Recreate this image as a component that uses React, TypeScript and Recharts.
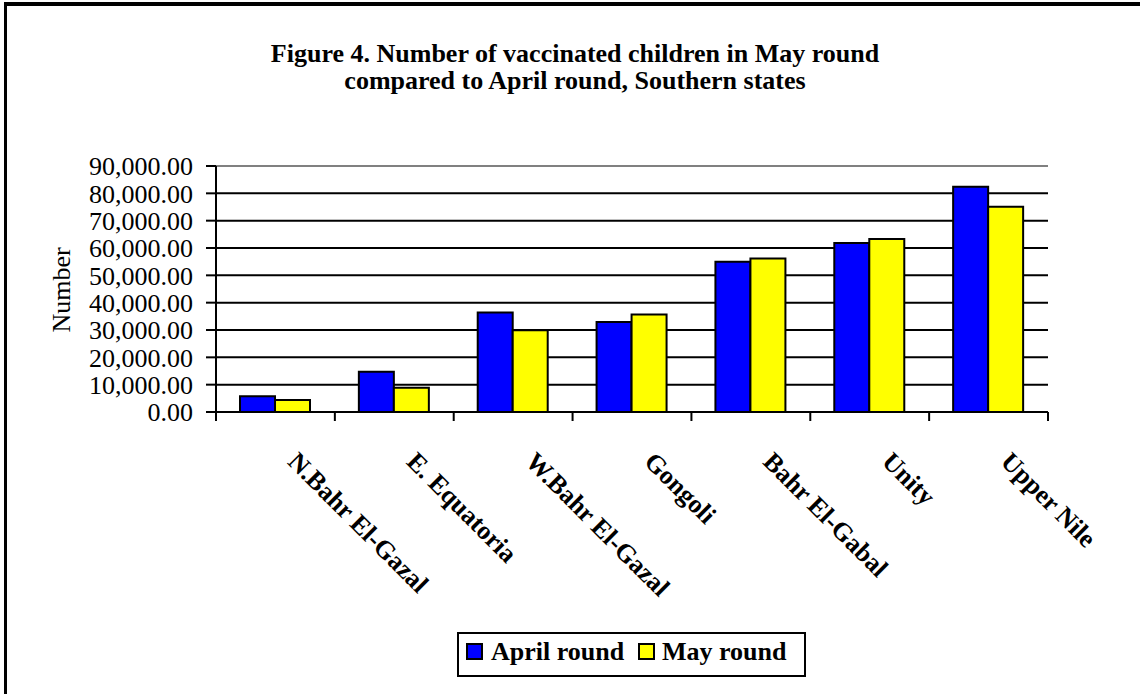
import React from 'react';
import { BarChart, Bar, XAxis, YAxis, CartesianGrid, ReferenceLine } from 'recharts';

const categories = [
  'N.Bahr El-Gazal',
  'E. Equatoria',
  'W.Bahr El-Gazal',
  'Gongoli',
  'Bahr El-Gabal',
  'Unity',
  'Upper Nile',
];
const aprilRound = [5800, 14700, 36400, 32900, 55000, 61800, 82400];
const mayRound = [4400, 8900, 29900, 35700, 56200, 63300, 75100];
const yTicks = [0, 10000, 20000, 30000, 40000, 50000, 60000, 70000, 80000, 90000];
const seriesNames = ['April round', 'May round'];
const seriesColors = ['#0000FF', '#FFFF00'];
const titleLines = [
  'Figure 4. Number of vaccinated children in May round',
  'compared to April round, Southern states',
];
const yAxisTitle = 'Number';

const data = categories.map((name, i) => ({ name, april: aprilRound[i], may: mayRound[i] }));

const FONT = "'Liberation Serif', 'Times New Roman', Times, serif";
const W = 1140;
const H = 694;
const PLOT_LEFT = 216;
const PLOT_RIGHT = 1048;
const PLOT_TOP = 166;
const PLOT_BOTTOM = 412;
const BAND = (PLOT_RIGHT - PLOT_LEFT) / categories.length;
const X_AXIS_H = 60;

const fmt = (v: number) =>
  v.toLocaleString('en-US', { minimumFractionDigits: 2, maximumFractionDigits: 2 });

function CategoryTick(props: any) {
  const { x, payload, index } = props;
  const tx = x + 11;
  const ty = PLOT_BOTTOM + 51;
  const last = index === categories.length - 1 || payload.value === categories[categories.length - 1];
  return (
    <g>
      <line x1={x - BAND / 2} x2={x - BAND / 2} y1={PLOT_BOTTOM} y2={PLOT_BOTTOM + 9} stroke="#000" strokeWidth={2} />
      {last && (
        <line x1={x + BAND / 2} x2={x + BAND / 2} y1={PLOT_BOTTOM} y2={PLOT_BOTTOM + 9} stroke="#000" strokeWidth={2} />
      )}
      <text
        x={tx}
        y={ty}
        transform={`rotate(45 ${tx} ${ty})`}
        textAnchor="start"
        fontFamily={FONT}
        fontWeight="bold"
        fontSize={26}
        fill="#000"
      >
        {payload.value}
      </text>
    </g>
  );
}

function NumberLabel() {
  const x = 70;
  const y = 290;
  return (
    <text
      x={x}
      y={y}
      transform={`rotate(-90 ${x} ${y})`}
      textAnchor="middle"
      fontFamily={FONT}
      fontSize={26}
      fill="#000"
    >
      {yAxisTitle}
    </text>
  );
}

export default function App() {
  return (
    <div
      style={{
        position: 'absolute',
        left: 0,
        top: 0,
        width: W,
        height: H,
        background: '#fff',
        overflow: 'hidden',
        fontFamily: FONT,
      }}
    >
      <div
        style={{
          position: 'absolute',
          left: 4,
          top: 2,
          width: W,
          height: H,
          borderTop: '4px solid #000',
          borderLeft: '3px solid #000',
          boxSizing: 'border-box',
        }}
      />
      <div
        style={{
          position: 'absolute',
          left: 75,
          top: 40,
          width: 1000,
          textAlign: 'center',
          fontSize: 26,
          lineHeight: '27px',
          fontWeight: 'bold',
          color: '#000',
        }}
      >
        {titleLines.map((l) => (
          <div key={l}>{l}</div>
        ))}
      </div>
      <div style={{ position: 'absolute', left: 0, top: 0 }}>
        <BarChart
          width={W}
          height={H}
          data={data}
          margin={{ top: PLOT_TOP, right: W - PLOT_RIGHT, bottom: H - PLOT_BOTTOM - X_AXIS_H, left: 0 }}
          barCategoryGap={24}
          barGap={0}
        >
          <CartesianGrid yAxisId="left" horizontal={true} vertical={false} stroke="#000" strokeWidth={2} />
          <ReferenceLine yAxisId="left" y={90000} stroke="#808080" strokeWidth={2} />
          <XAxis
            dataKey="name"
            height={X_AXIS_H}
            interval={0}
            axisLine={{ stroke: '#000', strokeWidth: 2 }}
            tickLine={false}
            tickSize={0}
            tick={<CategoryTick />}
          />
          <YAxis
            yAxisId="left"
            width={PLOT_LEFT}
            domain={[0, 90000]}
            ticks={yTicks}
            interval={0}
            tickFormatter={fmt}
            axisLine={{ stroke: '#000', strokeWidth: 2 }}
            tickLine={{ stroke: '#000', strokeWidth: 2 }}
            tickSize={10}
            tickMargin={13}
            tick={{ fontFamily: FONT, fontSize: 26, fill: '#000' }}
            label={<NumberLabel />}
          />
          <YAxis
            yAxisId="right"
            orientation="right"
            width={0}
            domain={[0, 90000]}
            ticks={yTicks}
            tick={false}
            tickLine={false}
            axisLine={{ stroke: '#808080', strokeWidth: 2 }}
          />
          <Bar
            yAxisId="left"
            dataKey="april"
            name={seriesNames[0]}
            fill={seriesColors[0]}
            stroke="#000"
            strokeWidth={2}
            isAnimationActive={false}
          />
          <Bar
            yAxisId="left"
            dataKey="may"
            name={seriesNames[1]}
            fill={seriesColors[1]}
            stroke="#000"
            strokeWidth={2}
            isAnimationActive={false}
          />
        </BarChart>
      </div>
      <div
        style={{
          position: 'absolute',
          left: 457,
          top: 632,
          width: 349,
          height: 45,
          border: '2px solid #000',
          boxSizing: 'border-box',
          background: '#fff',
          fontSize: 26,
          lineHeight: '26px',
          fontWeight: 'bold',
          color: '#000',
        }}
      >
        {seriesNames.map((n, i) => {
          const sqLeft = i === 0 ? 7 : 179;
          const txtLeft = i === 0 ? 32 : 203;
          return (
            <React.Fragment key={n}>
              <div
                style={{
                  position: 'absolute',
                  left: sqLeft,
                  top: 9,
                  width: 17,
                  height: 17,
                  boxSizing: 'border-box',
                  border: '2px solid #000',
                  background: seriesColors[i],
                }}
              />
              <div style={{ position: 'absolute', left: txtLeft, top: 5, whiteSpace: 'nowrap' }}>{n}</div>
            </React.Fragment>
          );
        })}
      </div>
    </div>
  );
}
